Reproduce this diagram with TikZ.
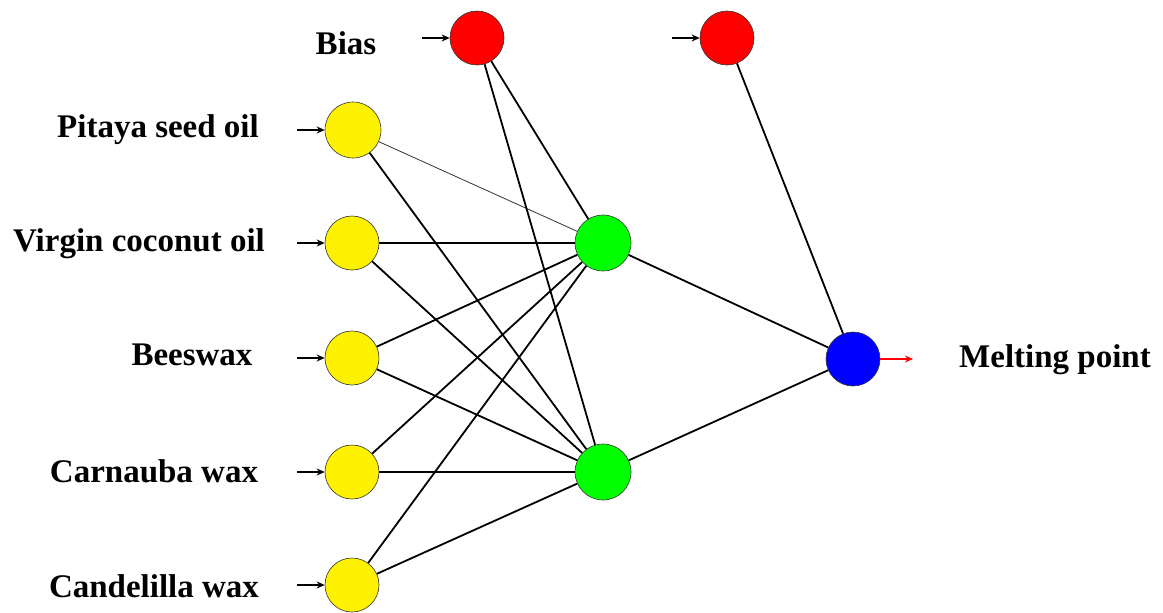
\documentclass[tikz,border=0pt]{standalone}
\usepackage{fontspec}
\setmainfont{Liberation Serif}
\usetikzlibrary{arrows.meta}
\begin{document}
\begin{tikzpicture}[x=1pt,y=-1pt,
  neuron/.style={circle,draw=black!80,line width=0.6pt,minimum size=54pt,inner sep=0pt},
  lbl/.style={font=\fontsize{33}{36}\selectfont\bfseries,inner sep=0pt},
  conn/.style={line width=1.8pt,black},
  thinconn/.style={line width=0.8pt,black!80},
  inarrow/.style={line width=1.8pt,-{Stealth[length=8pt,width=7pt]}},
  outarrow/.style={line width=1.8pt,red,-{Stealth[length=8pt,width=7pt]}}]
\useasboundingbox (0,0) rectangle (1163,613);
% nodes
\node[neuron,fill=red] (b1) at (477,38) {};
\node[neuron,fill=red] (b2) at (727,38) {};
\node[neuron,fill=yellow,minimum size=56pt] (i1) at (353,130) {};
\node[neuron,fill=yellow] (i2) at (352,243) {};
\node[neuron,fill=yellow] (i3) at (352,358) {};
\node[neuron,fill=yellow] (i4) at (352,472) {};
\node[neuron,fill=yellow] (i5) at (352,585) {};
\node[neuron,fill=green,minimum size=56pt] (h1) at (603,243) {};
\node[neuron,fill=green,minimum size=56pt] (h2) at (603,472) {};
\node[neuron,fill=blue] (o) at (853,359) {};
% labels
\node[lbl] (lb) at (346,43) {Bias};
\node[lbl] (l1) at (158,130) {Pitaya seed oil};
\node[lbl] (l2) at (139,244) {Virgin coconut oil};
\node[lbl] (l3) at (192,355) {Beeswax};
\node[lbl] (l4) at (154,471) {Carnauba wax};
\node[lbl] (l5) at (154,586) {Candelilla wax};
\node[lbl] (lo) at (1055,360) {Melting point};
% input arrows
\coordinate (ab1) at (422,38);
\coordinate (ab2) at (672,38);
\coordinate (a1) at (297,130);
\coordinate (a2) at (297,243);
\coordinate (a3) at (297,358);
\coordinate (a4) at (297,472);
\coordinate (a5) at (297,585);
\coordinate (ao) at (913,359);
\draw[inarrow] (ab1) -- (b1);
\draw[inarrow] (ab2) -- (b2);
\foreach \k in {1,...,5} {\draw[inarrow] (a\k) -- (i\k);}
\draw[outarrow] (o) -- (ao);
% connections
\draw[thinconn] (i1) -- (h1);
\draw[conn] (i1) -- (h2);
\foreach \k in {2,...,5} {\draw[conn] (i\k) -- (h1); \draw[conn] (i\k) -- (h2);}
\draw[conn] (b1) -- (h1);
\draw[conn] (b1) -- (h2);
\draw[conn] (h1) -- (o);
\draw[conn] (h2) -- (o);
\draw[conn] (b2) -- (o);
\end{tikzpicture}
\end{document}
